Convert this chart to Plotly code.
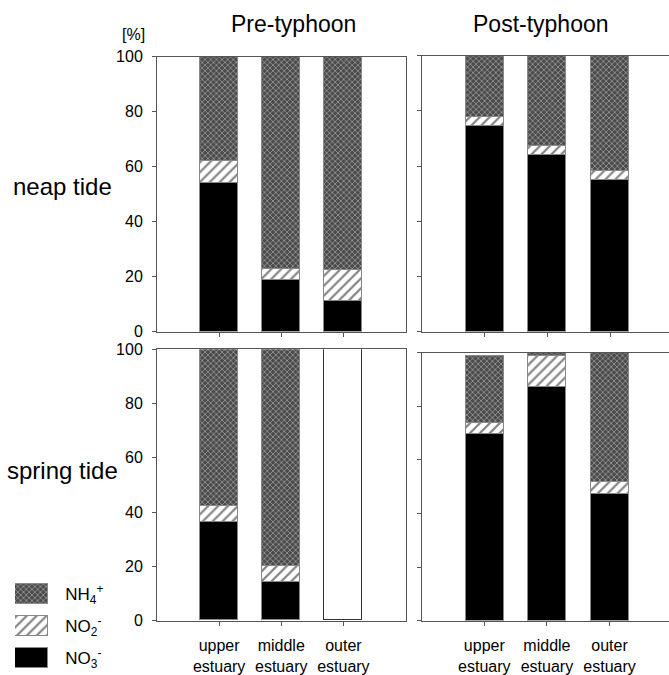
import plotly.graph_objects as go

W, H = 669, 675

categories = ["upper<br>estuary", "middle<br>estuary", "outer<br>estuary"]
series_names = ["NO3-", "NO2-", "NH4+"]
legend_labels = ["NO<sub>3</sub><sup>-</sup>", "NO<sub>2</sub><sup>-</sup>", "NH<sub>4</sub><sup>+</sup>"]

# percentages (stacked from bottom: NO3-, NO2-, NH4+)
neap_pre_no3 = [54.3, 18.9, 11.3]
neap_pre_no2 = [7.8, 4.0, 11.1]
neap_pre_nh4 = [37.9, 77.1, 77.6]

neap_post_no3 = [74.5, 64.1, 54.9]
neap_post_no2 = [3.3, 3.3, 3.4]
neap_post_nh4 = [22.2, 32.6, 41.7]

spring_pre_no3 = [36.3, 14.3, None]
spring_pre_no2 = [5.7, 5.9, None]
spring_pre_nh4 = [58.0, 79.8, None]
spring_pre_empty = [None, None, 100]   # outlined empty bar (no data)

spring_post_no3 = [69.6, 87.3, 47.4]
spring_post_no2 = [4.4, 11.5, 4.5]
spring_post_nh4 = [25.0, 1.2, 48.1]

legend_values = [1, 1, 1]

y_ticks = [0, 20, 40, 60, 80, 100]

FONT = "Liberation Sans, Arial, sans-serif"
LINE = "#555555"
BAR_LINE = "#888888"

styles = {
    "NO3-": dict(color="black", line=dict(color=BAR_LINE, width=1)),
    "NO2-": dict(color="white", line=dict(color=BAR_LINE, width=1),
                 pattern=dict(shape="/", fgcolor="black", bgcolor="white", size=7, solidity=0.3)),
    "NH4+": dict(color="#606060", line=dict(color=BAR_LINE, width=1),
                 pattern=dict(shape="x", fgcolor="#f0f0f0", bgcolor="#4a4a4a", size=4, solidity=0.35)),
}

fig = go.Figure()

panels = [
    ("x", "y", [neap_pre_no3, neap_pre_no2, neap_pre_nh4]),
    ("x2", "y2", [neap_post_no3, neap_post_no2, neap_post_nh4]),
    ("x3", "y3", [spring_pre_no3, spring_pre_no2, spring_pre_nh4]),
    ("x4", "y4", [spring_post_no3, spring_post_no2, spring_post_nh4]),
]

for xa, ya, vals in panels:
    for name, v in zip(series_names, vals):
        fig.add_trace(go.Bar(x=categories, y=v, name=name, marker=styles[name],
                             width=0.61, xaxis=xa, yaxis=ya, showlegend=False))

fig.add_trace(go.Bar(x=categories, y=spring_pre_empty, name="no data",
                     marker=dict(color="white", line=dict(color="#333333", width=1.2)),
                     width=0.61, xaxis="x3", yaxis="y3", showlegend=False))

# legend swatches
for name, lab, v in zip(series_names, legend_labels, legend_values):
    fig.add_trace(go.Bar(x=[v], y=[lab], orientation="h", name=name, marker=styles[name],
                         width=0.6, xaxis="x5", yaxis="y5", showlegend=False))


def px_x(a, b):
    return [a / W, b / W]


def px_y(top, bottom):
    return [1 - bottom / H, 1 - top / H]


common_x = dict(type="category", showline=True, linecolor=LINE, linewidth=1, mirror=True,
                ticks="outside", ticklen=4, tickcolor=LINE, showgrid=False, zeroline=False,
                automargin=False, ticklabelstandoff=6,
                tickfont=dict(family=FONT, size=16, color="black"))
common_y = dict(range=[0, 100], tickvals=y_ticks, showline=True, linecolor=LINE, linewidth=1,
                ticks="outside", ticklen=4, tickcolor=LINE, showgrid=False, zeroline=False,
                automargin=False, tickfont=dict(family=FONT, size=16, color="black"))

fig.update_layout(
    width=W, height=H, margin=dict(l=0, r=0, t=0, b=0, autoexpand=False),
    paper_bgcolor="white", plot_bgcolor="white", barmode="stack", bargap=0,
    font=dict(family=FONT, color="black"),
    xaxis=dict(common_x, domain=px_x(157, 405.5), range=[-1, 3], showticklabels=False, anchor="y"),
    yaxis=dict(common_y, domain=px_y(56.7, 331.7), mirror=True, anchor="x", ticklabelstandoff=6),
    xaxis2=dict(common_x, domain=px_x(422.3, 669), range=[-1, 2.94], showticklabels=False, anchor="y2"),
    yaxis2=dict(common_y, domain=px_y(55.7, 331.7), mirror=False, showticklabels=False, anchor="x2"),
    xaxis3=dict(common_x, domain=px_x(157, 405.5), range=[-1, 3], anchor="y3"),
    yaxis3=dict(common_y, domain=px_y(349.3, 620.7), mirror=True, anchor="x3", ticklabelstandoff=6),
    xaxis4=dict(common_x, domain=px_x(421.7, 669), range=[-1, 2.95], anchor="y4"),
    yaxis4=dict(common_y, domain=px_y(352.7, 620.7), mirror=False, showticklabels=False, anchor="x4"),
    xaxis5=dict(domain=px_x(15, 48.3), range=[0, 1], visible=False, anchor="y5", automargin=False),
    yaxis5=dict(domain=px_y(578, 674), range=[-0.5, 2.5], type="category", side="right",
                showline=False, ticks="", showgrid=False, zeroline=False, anchor="x5",
                automargin=False,
                ticklabelstandoff=16, tickfont=dict(family=FONT, size=17, color="black")),
)

ann = [
    dict(text="Pre-typhoon", x=293.7 / W, y=1 - 24 / H, size=23),
    dict(text="Post-typhoon", x=540.5 / W, y=1 - 24 / H, size=23),
    dict(text="neap tide", x=62 / W, y=1 - 186 / H, size=24),
    dict(text="spring tide", x=62 / W, y=1 - 470 / H, size=24),
    dict(text="[%]", x=133 / W, y=1 - 34 / H, size=16),
]
for a in ann:
    fig.add_annotation(xref="paper", yref="paper", xanchor="center", yanchor="middle",
                       showarrow=False, text=a["text"], x=a["x"], y=a["y"],
                       font=dict(family=FONT, color="black", size=a["size"]))

fig.write_html("out.html")
